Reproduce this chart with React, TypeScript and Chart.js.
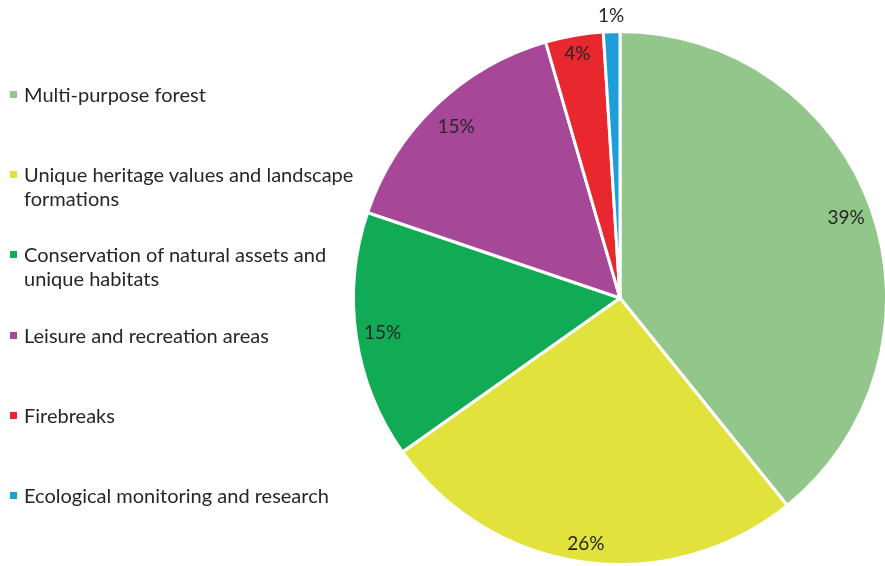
import React, { useEffect, useRef } from "react";
import { Chart, registerables } from "chart.js";

Chart.register(...registerables);

const categories: string[][] = [
  ["Multi-purpose forest"],
  ["Unique heritage values and landscape", "formations"],
  ["Conservation of natural assets and", "unique habitats"],
  ["Leisure and recreation areas"],
  ["Firebreaks"],
  ["Ecological monitoring and research"],
];
const values: number[] = [39.2, 26.0, 15.0, 15.3, 3.5, 1.0];
const valueLabels: string[] = ["39%", "26%", "15%", "15%", "4%", "1%"];
const colors: string[] = ["#92C68A", "#E1E23C", "#12AB55", "#A64798", "#E8282E", "#1E9ED9"];
const labelRadius: number[] = [0.9, 0.93, 0.9, 0.89, 0.93, 1.06];

const FONT = "Lato, 'Open Sans', sans-serif";

const labelPlugin = {
  id: "pctLabels",
  afterDatasetsDraw(chart: any) {
    const ctx = chart.ctx;
    const meta = chart.getDatasetMeta(0);
    ctx.save();
    ctx.font = `19px ${FONT}`;
    ctx.fillStyle = "#262626";
    ctx.textAlign = "center";
    ctx.textBaseline = "middle";
    meta.data.forEach((arc: any, i: number) => {
      const p = arc.getProps(["x", "y", "startAngle", "endAngle", "outerRadius"], true);
      const mid = (p.startAngle + p.endAngle) / 2;
      const r = p.outerRadius * labelRadius[i];
      ctx.fillText(valueLabels[i], p.x + Math.cos(mid) * r, p.y + Math.sin(mid) * r);
    });
    ctx.restore();
  },
};

export default function App() {
  const ref = useRef<HTMLCanvasElement | null>(null);
  useEffect(() => {
    if (!ref.current) return;
    const chart = new Chart(ref.current, {
      type: "pie",
      data: {
        labels: categories.map((c) => c.join(" ")),
        datasets: [
          {
            data: values,
            backgroundColor: colors,
            borderColor: "#ffffff",
            borderWidth: 3,
          },
        ],
      },
      options: {
        animation: false,
        responsive: false,
        layout: { padding: { left: 352, right: 0, top: 30, bottom: 0 } },
        plugins: {
          legend: { display: false },
          tooltip: { enabled: false },
        },
      },
      plugins: [labelPlugin],
    });
    return () => chart.destroy();
  }, []);

  const tops = [82, 162, 242, 323, 403, 483];

  return (
    <div style={{ position: "fixed", left: 0, top: 0, width: 885, height: 566, background: "#fff", overflow: "hidden" }}>
      <canvas ref={ref} width={888} height={566} style={{ position: "absolute", left: 0, top: 0 }} />
      {categories.map((lines, i) => (
        <div
          key={i}
          style={{
            position: "absolute",
            left: 24,
            top: tops[i],
            fontFamily: FONT,
            fontSize: 20,
            lineHeight: "24px",
            color: "#262626",
            whiteSpace: "nowrap",
          }}
        >
          <span
            style={{
              position: "absolute",
              left: -14,
              top: 9,
              width: 7,
              height: 7,
              background: colors[i],
            }}
          />
          {lines.map((l, j) => (
            <div key={j}>{l}</div>
          ))}
        </div>
      ))}
    </div>
  );
}
